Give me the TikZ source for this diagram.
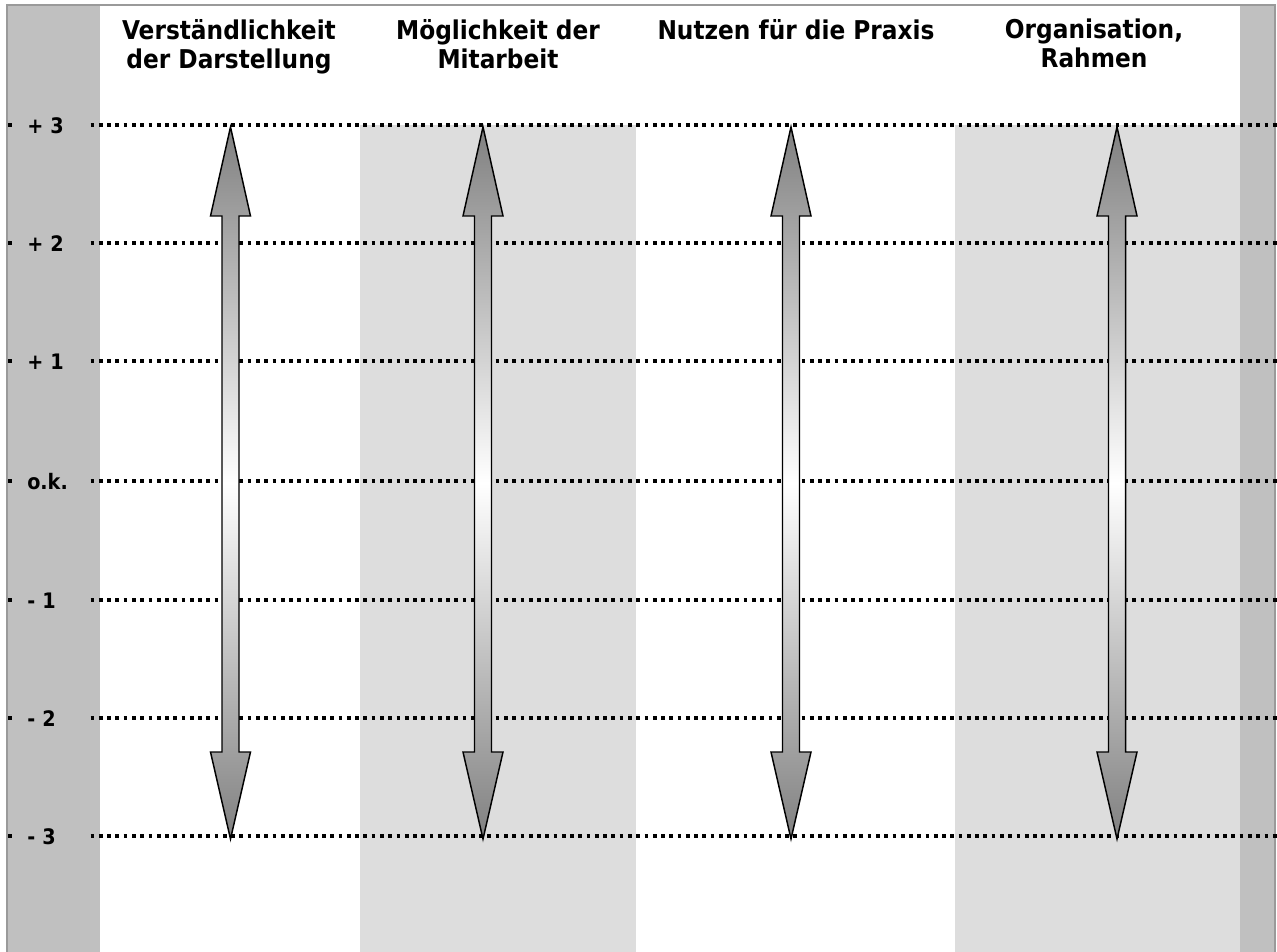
\documentclass[tikz,border=0pt]{standalone}
\usepackage{fontspec}
\setmainfont{DejaVu Sans Condensed}
\definecolor{band}{HTML}{C0C0C0}
\definecolor{colgray}{HTML}{DDDDDD}
\definecolor{bordergray}{HTML}{9A9A9A}
\definecolor{agray}{HTML}{808080}
\tikzset{
  dotline/.style={line width=2.8pt, dash pattern=on 2.8pt off 3.4pt, black},
  lab/.style={anchor=west, fill=band, inner xsep=9.75pt, inner ysep=3pt, text width=37.5pt, align=left,
     text height=11.7pt, text depth=0pt, font=\bfseries\fontsize{16pt}{19pt}\selectfont},
  head/.style={anchor=north, inner sep=0pt, align=center, font=\bfseries\fontsize{19.4pt}{21.75pt}\selectfont},
  arrowshape/.style={draw=black, line width=1.1pt, line join=miter, top color=agray, bottom color=agray, middle color=white},
}
\begin{document}
\begin{tikzpicture}[x=0.75pt,y=-0.75pt]
\useasboundingbox (0,0) rectangle (1277,952);
\fill[white] (0,0) rectangle (1277,952);
\fill[band] (8,5) rectangle (100,952);
\fill[band] (1240,5) rectangle (1275,952);
\fill[colgray] (360,125) rectangle (636,952);
\fill[colgray] (955,125) rectangle (1240,952);
\draw[bordergray, line width=1.5pt] (7,953) -- (7,5) -- (1275,5) -- (1275,953);
% scale lines and labels
\foreach \yy/\txt [count=\i] in {125/{+ 3}, 243/{+ 2}, 361/{+ 1}, 481/{o.k.}, 600/{- 1}, 718/{- 2}, 836/{- 3}} {
  \coordinate (ls\i) at (8,\yy);
  \coordinate (le\i) at (1277,\yy);
  \draw[dotline] (ls\i) -- (le\i);
  \node[lab] (lab\i) at (14,\yy+1) {\txt};
}
% arrows
\foreach \xx [count=\j] in {230.5,483,791,1117} {
  \coordinate (top\j) at (\xx,127);
  \coordinate (bot\j) at (\xx,839);
  \path[arrowshape] (top\j) -- ++(20,89) -- ++(-11.5,0) -- ++(0,536) -- ++(11.5,0)
     -- (bot\j) -- ++(-20,-87) -- ++(11.5,0) -- ++(0,-536) -- ++(-11.5,0) -- cycle;
}
% headers
\node[head] (h1) at (229,19) {Verständlichkeit\\der Darstellung};
\node[head] (h2) at (498,19) {Möglichkeit der\\Mitarbeit};
\node[head] (h3) at (796,19) {Nutzen für die Praxis};
\node[head] (h4) at (1094,19) {Organisation,\\Rahmen};
\end{tikzpicture}
\end{document}
